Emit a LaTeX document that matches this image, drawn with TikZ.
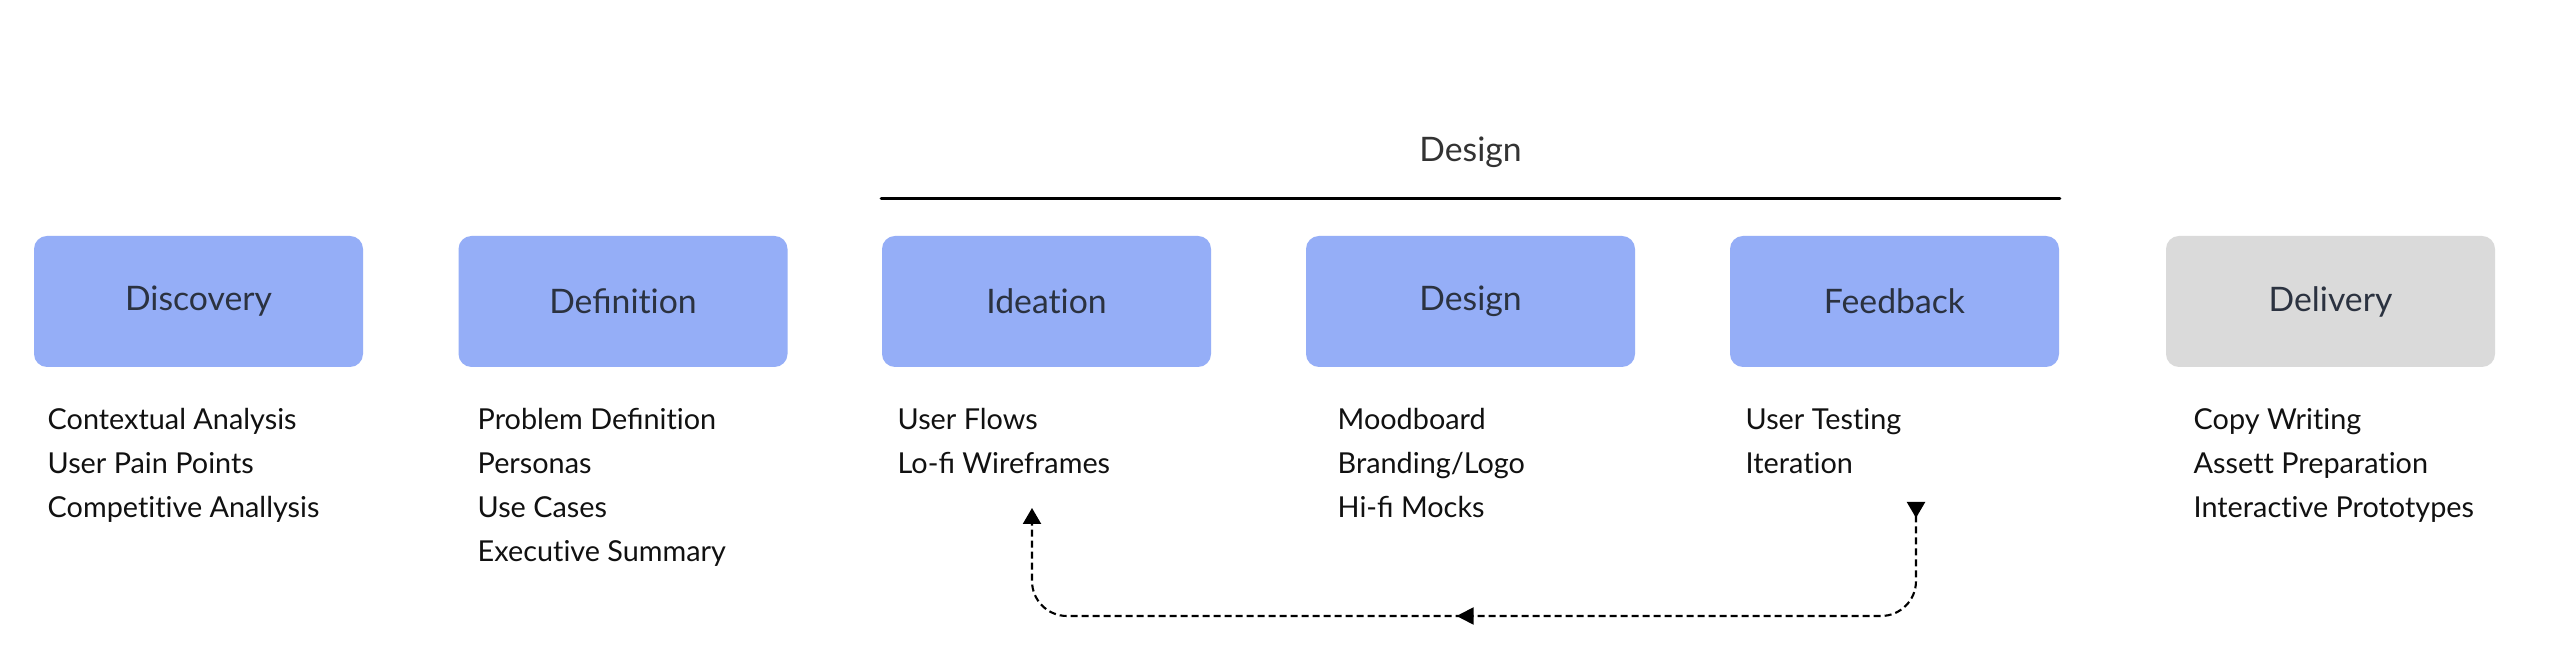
\documentclass[tikz,border=0pt]{standalone}
\usepackage{fontspec}
\setmainfont{Lato}[Ligatures=NoCommon]
\usepackage{tikz}
\usetikzlibrary{arrows.meta,decorations.markings}
\definecolor{PhBlue}{HTML}{95AEF7}
\definecolor{PhGrey}{HTML}{DADADA}
\definecolor{PhInk}{HTML}{2B3240}
\definecolor{PhTitle}{HTML}{333333}
\definecolor{PhText}{HTML}{111111}

\begin{document}
\begin{tikzpicture}[x=1cm,y=1cm,
  stage/.style={fill=PhBlue,rounded corners=.13cm,minimum width=3.29cm,minimum height=1.31cm,
    inner sep=0pt,text=PhInk,font=\fontsize{9.6}{11}\selectfont},
  item/.style={anchor=base west,inner sep=0pt,text=PhText,font=\fontsize{8.2}{10}\selectfont},
  backflow/.style={line width=.6pt,dash pattern=on .07cm off .04cm,rounded corners=.35cm,
    {Triangle[reversed,length=.16cm,width=.18cm]}-{Triangle[length=.16cm,width=.18cm]},
    postaction=decorate,
    decoration={markings,mark=at position .519 with {\arrow{Triangle[length=.17cm,width=.17cm]}}}}]
\path[use as bounding box] (0,0) rectangle (25.54,6.70);
\fill[white] (0,0) rectangle (25.54,6.70);
% stages
\node[stage] (disc) at (1.985,3.685) {Discovery};
\node[stage] (defn) at (6.23,3.685) {Deﬁnition};
\node[stage] (ide) at (10.465,3.685) {Ideation};
\node[stage] (dsgn) at (14.705,3.685) {Design};
\node[stage] (fbk) at (18.945,3.685) {Feedback};
\node[stage,fill=PhGrey] (dlv) at (23.305,3.685) {Delivery};
% design group
\draw[line width=1pt,line cap=round] ([yshift=.37cm]ide.north west) -- ([yshift=.37cm]fbk.north east);
\node[anchor=base,inner sep=0pt,text=PhTitle,font=\fontsize{9.6}{11}\selectfont] (grp) at (14.705,5.08) {Design};
% tasks
\node[item] (disc-a) at (0.47,2.40) {Contextual Analysis};
\node[item] (disc-b) at (0.47,1.96) {User Pain Points};
\node[item] (disc-c) at (0.47,1.52) {Competitive Anallysis};
\node[item] (defn-a) at (4.77,2.40) {Problem Deﬁnition};
\node[item] (defn-b) at (4.77,1.96) {Personas};
\node[item] (defn-c) at (4.77,1.52) {Use Cases};
\node[item] (defn-d) at (4.77,1.08) {Executive Summary};
\node[item] (ide-a) at (8.97,2.40) {User Flows};
\node[item] (ide-b) at (8.97,1.96) {Lo-ﬁ Wireframes};
\node[item] (dsgn-a) at (13.37,2.40) {Moodboard};
\node[item] (dsgn-b) at (13.37,1.96) {Branding/Logo};
\node[item] (dsgn-c) at (13.37,1.52) {Hi-ﬁ Mocks};
\node[item] (fbk-a) at (17.45,2.40) {User Testing};
\node[item] (fbk-b) at (17.45,1.96) {Iteration};
\node[item] (dlv-a) at (21.93,2.40) {Copy Writing};
\node[item] (dlv-b) at (21.93,1.96) {Assett Preparation};
\node[item] (dlv-c) at (21.93,1.52) {Interactive Prototypes};
% feedback loop
\coordinate (fbk-out) at (19.16,1.68);
\coordinate (ide-in) at (10.32,1.62);
\draw[backflow] (fbk-out) -- ++(0,-1.14) -| (ide-in);
\end{tikzpicture}
\end{document}
